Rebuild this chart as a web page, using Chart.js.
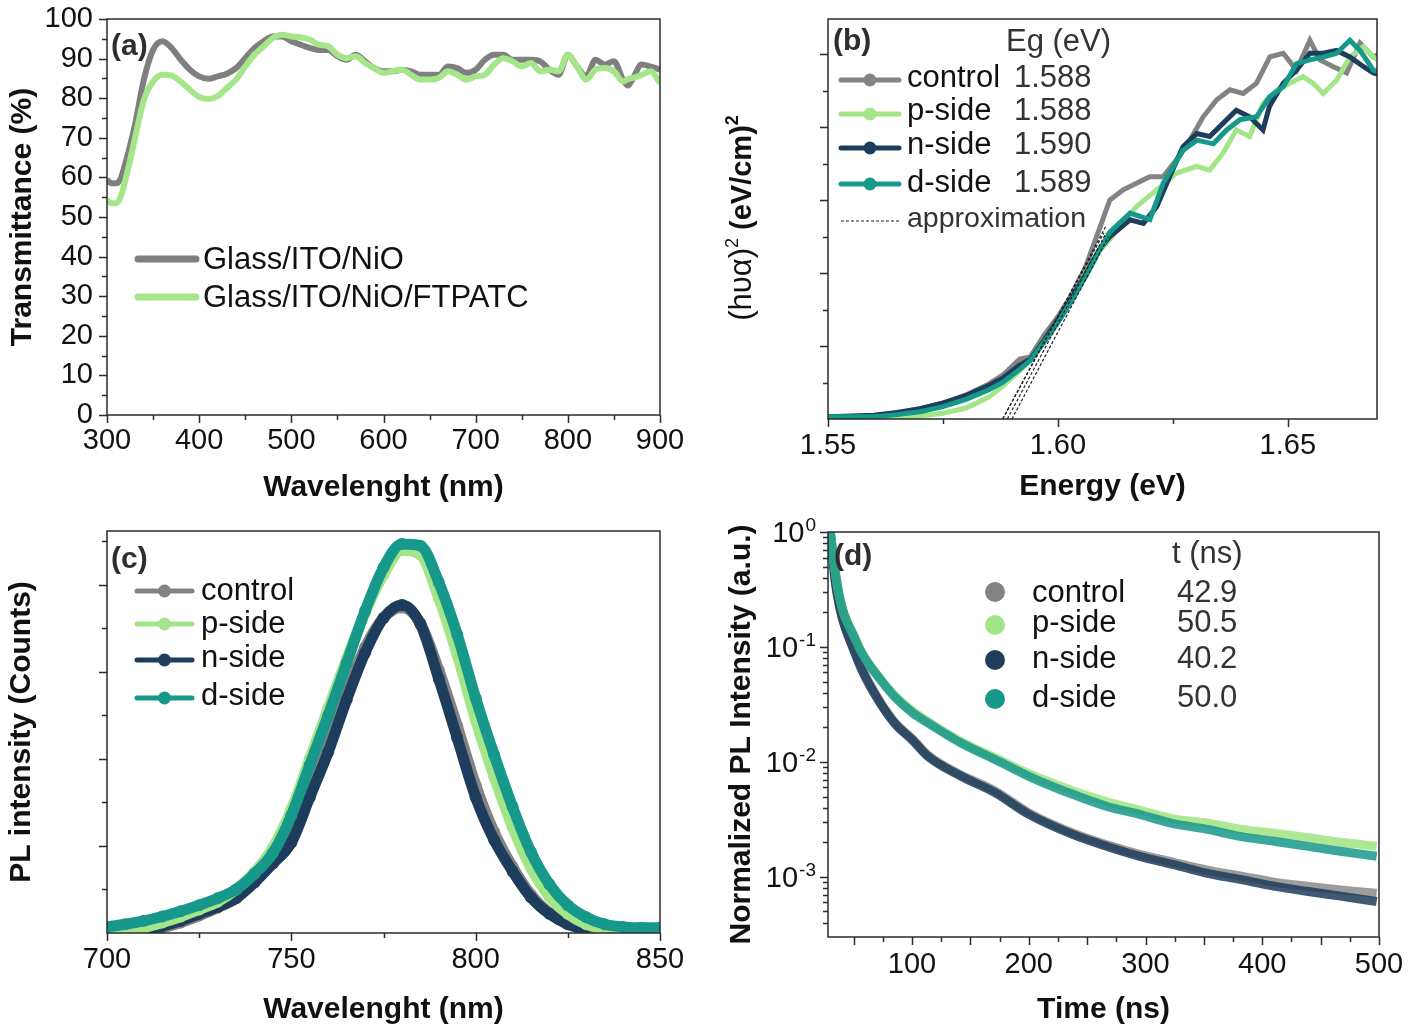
<!DOCTYPE html>
<html>
<head>
<meta charset="utf-8">
<title>Transmittance, Tauc, PL and TRPL</title>
<script src="https://cdn.jsdelivr.net/npm/chart.js@4.4.1/dist/chart.umd.min.js"></script>
<style>
  html, body { margin: 0; padding: 0; background: #fff; }
  body { width: 1423px; height: 1034px; position: relative; overflow: hidden; }
  canvas { position: absolute; }
</style>
</head>
<body>
<canvas id="pa" width="700" height="510" style="left:0;top:0"></canvas>
<canvas id="pb" width="713" height="510" style="left:710px;top:0"></canvas>
<canvas id="pc" width="700" height="524" style="left:0;top:510px"></canvas>
<canvas id="pd" width="713" height="524" style="left:710px;top:510px"></canvas>
<script>
const FONT = '"Liberation Sans", Arial, Helvetica, sans-serif'
const INK = '#111'
const LEG = '31px ' + FONT

// samples shared by (b), (c), (d)
const sampleNames = ['control', 'p-side', 'n-side', 'd-side']
const sampleColors = ['#838383', '#a5e58a', '#1e3d5c', '#16988a']

// (a) transmittance
const transNames = ['Glass/ITO/NiO', 'Glass/ITO/NiO/FTPATC']
const transWl = [300, 305, 310, 315, 320, 330, 340, 350, 360, 370, 380, 390, 400, 410, 420, 430, 440, 450, 460, 470, 480, 490, 500,
  510, 520, 530, 540, 550, 560, 570, 580, 590, 600, 610, 620, 630, 640, 650, 660, 670, 680, 690, 700, 710, 720, 730, 740, 750,
  760, 770, 780, 790, 800, 810, 820, 830, 840, 850, 860, 865, 870, 880, 890, 900]
const transNiO = [59.4, 58.5, 58.5, 59.8, 63.6, 72.9, 84.7, 92.2, 94.4, 92.7, 89.7, 87.2, 85.5, 84.9, 85.5, 86.2, 87.6, 90.1, 92.7,
  94.4, 95.6, 95.6, 94.4, 93.5, 92.7, 92.2, 92.2, 90.6, 89.7, 91.0, 89.3, 87.6, 86.8, 86.8, 87.2, 86.8, 85.9, 85.9, 85.9, 88.0,
  87.6, 86.4, 87.2, 89.7, 91.0, 91.0, 89.7, 89.7, 89.7, 89.3, 87.2, 85.9, 91.0, 88.0, 85.5, 89.7, 88.5, 89.3, 84.6, 83.2, 84.7,
  88.5, 88.0, 87.2]
const transFtpatc = [54.3, 53.5, 53.5, 55.2, 59.4, 69.5, 79.6, 84.2, 85.9, 85.7, 84.2, 82.1, 80.3, 79.8, 80.5, 82.6, 84.7, 88.0,
  91.0, 93.1, 95.2, 96.0, 95.6, 95.4, 94.8, 93.5, 93.1, 91.0, 90.1, 90.6, 88.9, 87.6, 86.4, 86.8, 87.2, 85.9, 84.7, 84.7, 85.1,
  86.8, 85.9, 84.7, 85.5, 85.9, 88.5, 90.1, 89.3, 88.0, 88.9, 86.8, 87.2, 86.8, 91.0, 88.0, 84.7, 87.2, 87.6, 86.8, 84.2, 84.8,
  85.1, 85.9, 86.8, 83.8]
const transColors = ['#7f7f7f', '#a6e68a']
const transXTicks = [300, 400, 500, 600, 700, 800, 900]
const transYTicks = [0, 10, 20, 30, 40, 50, 60, 70, 80, 90, 100]

// (b) Tauc plot, (h nu alpha)^2 in arbitrary units
const egCtrlE = [1.550, 1.555, 1.560, 1.565, 1.570, 1.575, 1.580, 1.585, 1.588, 1.5917, 1.594, 1.597, 1.600, 1.603, 1.606,
  1.609, 1.6113, 1.6142, 1.6171, 1.620, 1.6229, 1.6258, 1.6287, 1.6316, 1.6345, 1.6374, 1.6403, 1.6432, 1.6461, 1.649, 1.6519,
  1.6548, 1.657, 1.6598, 1.6628, 1.6657, 1.6686, 1.670]
const egCtrlY = [0.03, 0.03, 0.04, 0.08, 0.14, 0.21, 0.33, 0.48, 0.6, 0.82, 0.85, 1.15, 1.4, 1.7, 2.08, 2.6, 3.0, 3.14, 3.23,
  3.32, 3.32, 3.55, 3.82, 4.14, 4.37, 4.51, 4.46, 4.6, 4.96, 5.01, 4.78, 5.19, 4.92, 4.83, 4.74, 5.15, 4.96, 5.0]
const egPE = [1.550, 1.555, 1.560, 1.565, 1.570, 1.575, 1.580, 1.585, 1.588, 1.5917, 1.594, 1.597, 1.600, 1.603, 1.606, 1.609,
  1.6113, 1.6171, 1.6215, 1.6258, 1.6302, 1.633, 1.6359, 1.6388, 1.6417, 1.6446, 1.6475, 1.6504, 1.6533, 1.6555, 1.6577,
  1.6606, 1.6635, 1.6664, 1.6686, 1.670]
const egPY = [0, 0, 0.01, 0.02, 0.04, 0.08, 0.15, 0.3, 0.45, 0.66, 0.82, 1.08, 1.35, 1.66, 2.0, 2.3, 2.46, 2.91, 3.14, 3.37,
  3.46, 3.41, 3.64, 3.96, 3.87, 4.32, 4.5, 4.6, 4.69, 4.6, 4.46, 4.64, 4.96, 5.1, 4.96, 4.9]
const egNE = [1.550, 1.555, 1.560, 1.565, 1.570, 1.575, 1.580, 1.585, 1.588, 1.5917, 1.594, 1.597, 1.600, 1.603, 1.606, 1.609,
  1.6113, 1.6157, 1.6186, 1.6215, 1.6243, 1.6272, 1.6302, 1.633, 1.6359, 1.6388, 1.6417, 1.6446, 1.646, 1.649, 1.6519, 1.6548,
  1.6577, 1.6606, 1.6635, 1.6664, 1.6686, 1.670]
const egNY = [0.03, 0.04, 0.05, 0.09, 0.14, 0.22, 0.32, 0.46, 0.56, 0.74, 0.82, 1.08, 1.36, 1.66, 1.98, 2.32, 2.5, 2.73, 2.68,
  2.91, 3.32, 3.73, 3.91, 3.87, 4.05, 4.23, 4.14, 3.96, 4.28, 4.6, 4.78, 5.01, 5.01, 5.05, 4.96, 4.83, 4.74, 4.72]
const egDE = [1.550, 1.555, 1.560, 1.565, 1.570, 1.575, 1.580, 1.585, 1.588, 1.5917, 1.594, 1.597, 1.600, 1.603, 1.606, 1.609,
  1.6113, 1.6157, 1.620, 1.6229, 1.6272, 1.6302, 1.6338, 1.6367, 1.6396, 1.6432, 1.646, 1.649, 1.6519, 1.6548, 1.6577, 1.6606,
  1.6635, 1.6657, 1.6686, 1.670]
const egDY = [0.03, 0.03, 0.03, 0.06, 0.1, 0.17, 0.27, 0.4, 0.5, 0.68, 0.8, 1.05, 1.32, 1.62, 1.95, 2.3, 2.56, 2.82, 2.73, 3.23,
  3.68, 3.82, 3.77, 3.96, 4.1, 4.14, 4.41, 4.55, 4.87, 4.92, 4.96, 5.01, 5.19, 5.05, 4.78, 4.75]
// linear fits: start at Eg on the baseline, end point
const egFitE0 = [1.588, 1.588, 1.590, 1.589]
const egFitE1 = [1.6105, 1.6100, 1.6110, 1.6105]
const egFitY1 = [2.65, 2.55, 2.5, 2.55]
const egXTicks = [1.55, 1.60, 1.65]

// (c) steady state PL, arbitrary units
const plWl = [700, 705, 710, 715, 720, 725, 730, 735, 740, 745, 750, 755, 760, 765, 770, 775, 780, 785, 790, 795, 800, 805, 810,
  815, 820, 825, 830, 835, 840, 845, 850]
const plControl = [0, 0, 0.02, 0.06, 0.12, 0.2, 0.29, 0.4, 0.6, 0.84, 1.12, 1.62, 2.15, 2.75, 3.28, 3.62, 3.74, 3.56, 3.02, 2.38,
  1.7, 1.16, 0.76, 0.44, 0.23, 0.1, 0.04, 0.01, 0, 0, 0]
const plP = [0, 0.02, 0.06, 0.12, 0.19, 0.27, 0.36, 0.5, 0.7, 0.98, 1.42, 2.0, 2.58, 3.15, 3.68, 4.12, 4.4, 4.35, 3.85, 3.2, 2.45,
  1.8, 1.22, 0.75, 0.42, 0.22, 0.1, 0.04, 0.01, 0, 0]
const plN = [0, 0, 0.03, 0.08, 0.14, 0.22, 0.3, 0.4, 0.58, 0.8, 1.04, 1.56, 2.08, 2.68, 3.22, 3.62, 3.77, 3.55, 2.92, 2.24, 1.56,
  1.07, 0.71, 0.41, 0.22, 0.1, 0.04, 0.01, 0, 0, 0]
const plD = [0.07, 0.1, 0.14, 0.19, 0.25, 0.32, 0.4, 0.5, 0.68, 0.92, 1.35, 1.93, 2.5, 3.1, 3.7, 4.2, 4.47, 4.45, 4.03, 3.43,
  2.7, 2.05, 1.45, 0.93, 0.56, 0.32, 0.18, 0.1, 0.07, 0.06, 0.06]
const plXTicks = [700, 750, 800, 850]

// (d) TRPL decay, normalized
const trplTime = [30, 34, 38, 42, 50, 57, 71, 85, 100, 114, 142, 171, 200, 238, 267, 295, 324, 352, 381, 410, 438, 467, 498]
const trplControl = [1.0, 0.39, 0.225, 0.158, 0.097, 0.065, 0.0355, 0.0222, 0.016, 0.0114, 0.0077, 0.0056, 0.0036, 0.0024,
  0.0019, 0.00157, 0.00134, 0.00115, 0.00102, 0.0009, 0.00083, 0.00077, 0.00072]
const trplP = [1.0, 0.47, 0.27, 0.19, 0.127, 0.09, 0.056, 0.038, 0.028, 0.0223, 0.015, 0.0109, 0.0079, 0.0056, 0.0045, 0.0038,
  0.0032, 0.00295, 0.0026, 0.0024, 0.0022, 0.002, 0.00185]
const trplN = [1.0, 0.38, 0.22, 0.155, 0.094, 0.063, 0.0346, 0.0217, 0.0156, 0.0111, 0.0075, 0.0054, 0.0035, 0.00233, 0.00184,
  0.00151, 0.00128, 0.00108, 0.00095, 0.00083, 0.00075, 0.00068, 0.00061]
const trplD = [1.0, 0.465, 0.27, 0.19, 0.125, 0.088, 0.055, 0.037, 0.027, 0.0217, 0.0146, 0.0105, 0.0075, 0.0052, 0.0041,
  0.0035, 0.0029, 0.0026, 0.00225, 0.00204, 0.00185, 0.00167, 0.00151]
const lifetimes = ['42.9', '50.5', '40.2', '50.0']
const trplXTicks = [100, 200, 300, 400, 500]
const trplDecades = [1, 0.1, 0.01, 0.001]

const pts = (xs, ys) => xs.map((x, i) => ({ x, y: ys[i] }))
const range = (a, b, s) => { const r = []; for (let v = a; v <= b + 1e-9; v += s) r.push(+v.toFixed(4)); return r }

function axisX (min, max, ticks, height, pad, title, titlePad, fmt) {
  return {
    type: 'linear', min, max,
    grid: { display: false, drawTicks: false },
    border: { display: false },
    afterBuildTicks: s => { s.ticks = ticks.map(v => ({ value: v })) },
    afterFit: s => { s.height = height; s.paddingLeft = 0; s.paddingRight = 0 },
    ticks: { autoSkip: false, maxRotation: 0, padding: pad, color: INK, font: { family: FONT, size: 29 }, callback: fmt || (v => v) },
    title: { display: true, text: title, color: INK, font: { family: FONT, size: 30, weight: 'bold' }, padding: { top: 0, bottom: titlePad } }
  }
}

function axisY (type, min, max, ticks, width, showLabels, title, titlePad) {
  return {
    type, min, max,
    grid: { display: false, drawTicks: false },
    border: { display: false },
    afterBuildTicks: s => { s.ticks = ticks.map(v => ({ value: v })) },
    afterFit: s => { s.width = width; s.paddingTop = 0; s.paddingBottom = 0 },
    ticks: { display: showLabels, autoSkip: false, padding: 14, color: INK, font: { family: FONT, size: 29 } },
    title: { display: !!title, text: title || '', color: INK, font: { family: FONT, size: 30, weight: 'bold' }, padding: { top: titlePad, bottom: 0 } }
  }
}

// frame, outward ticks, panel tag and the hand placed legend
function decor (cfg) {
  return {
    id: 'decor',
    afterDraw (chart) {
      const { ctx, chartArea: a } = chart
      const xs = chart.scales.x
      const ys = chart.scales.y
      ctx.save()
      ctx.strokeStyle = '#2b2b2b'
      ctx.lineWidth = 1.5
      ctx.beginPath()
      const tick = (list, len, horiz) => (list || []).forEach(v => {
        if (horiz) {
          const p = Math.round(xs.getPixelForValue(v)) + 0.5
          ctx.moveTo(p, a.bottom); ctx.lineTo(p, a.bottom + len)
        } else {
          const p = Math.round(ys.getPixelForValue(v)) + 0.5
          ctx.moveTo(a.left, p); ctx.lineTo(a.left - len, p)
        }
      })
      tick(cfg.xMajor, 8, true); tick(cfg.xMinor, 5, true)
      tick(cfg.yMajor, 8, false); tick(cfg.yMinor, 5, false)
      ctx.stroke()
      ctx.strokeRect(a.left, a.top, a.right - a.left, a.bottom - a.top)
      ctx.fillStyle = '#2e2e2e'
      ctx.font = 'bold 30px ' + FONT
      ctx.textBaseline = 'alphabetic'
      ctx.textAlign = 'left'
      ctx.fillText(cfg.tag, cfg.tagX, cfg.tagY)
      if (cfg.draw) cfg.draw(ctx, a, chart)
      ctx.restore()
    }
  }
}

function legendLine (ctx, x0, x1, y, color, width, marker) {
  ctx.strokeStyle = color
  ctx.lineWidth = width
  ctx.lineCap = 'round'
  ctx.beginPath(); ctx.moveTo(x0, y); ctx.lineTo(x1, y); ctx.stroke()
  if (marker) {
    ctx.fillStyle = color
    ctx.beginPath(); ctx.arc((x0 + x1) / 2, y, marker, 0, Math.PI * 2); ctx.fill()
  }
}

const base = {
  responsive: false,
  animation: false,
  events: [],
  plugins: { legend: { display: false }, tooltip: { enabled: false } }
}

// Chart.js paints dataset 0 last, so lists are given back-to-front and reversed
// ---------- (a)
new Chart(document.getElementById('pa'), {
  type: 'line',
  data: {
    datasets: [transNiO, transFtpatc].map((d, i) => ({
      data: pts(transWl, d),
      borderColor: transColors[i],
      borderWidth: 6,
      pointRadius: 0,
      cubicInterpolationMode: 'monotone'
    })).reverse()
  },
  options: {
    ...base,
    layout: { padding: { left: 0, top: 19, right: 40, bottom: 0 } },
    scales: {
      x: axisX(300, 900, transXTicks, 95, 9, 'Wavelenght (nm)', 4),
      y: axisY('linear', 0, 100, transYTicks, 107, true, 'Transmittance (%)', 5)
    }
  },
  plugins: [decor({
    tag: '(a)', tagX: 111, tagY: 55,
    xMajor: transXTicks, xMinor: range(350, 850, 100),
    yMajor: transYTicks, yMinor: range(5, 95, 10),
    draw (ctx) {
      const rows = [259, 297]
      transNames.forEach((n, i) => {
        legendLine(ctx, 138, 196, rows[i], transColors[i], 7, 0)
        ctx.fillStyle = INK
        ctx.font = LEG
        ctx.fillText(n, 203, rows[i] + 10)
      })
    }
  })]
})

// ---------- (b)
const egSeries = [[egCtrlE, egCtrlY], [egPE, egPY], [egNE, egNY], [egDE, egDY]]
new Chart(document.getElementById('pb'), {
  type: 'line',
  data: {
    datasets: egSeries.map((s, i) => ({
      data: pts(s[0], s[1]),
      borderColor: sampleColors[i],
      borderWidth: 5,
      pointRadius: 0,
      tension: 0
    })).concat(egFitE0.map((e, i) => ({
      data: [{ x: e, y: 0 }, { x: egFitE1[i], y: egFitY1[i] }],
      borderColor: '#222',
      borderWidth: 1.2,
      borderDash: [3, 2],
      pointRadius: 0
    }))).reverse()
  },
  options: {
    ...base,
    layout: { padding: { left: 0, top: 19, right: 46, bottom: 0 } },
    scales: {
      x: axisX(1.55, 1.6694, egXTicks, 91, 10, 'Energy (eV)', 5, v => v.toFixed(2)),
      y: axisY('linear', 0, 5.48, [1, 2, 3, 4, 5], 118, false)
    }
  },
  plugins: [decor({
    tag: '(b)', tagX: 123, tagY: 50,
    xMajor: egXTicks, xMinor: [1.575, 1.625],
    yMajor: [1, 2, 3, 4, 5], yMinor: [0.5, 1.5, 2.5, 3.5, 4.5],
    draw (ctx) {
      ctx.font = LEG
      ctx.fillStyle = '#333'
      ctx.fillText('Eg (eV)', 296, 51)
      const rows = [80, 114, 148, 184]
      const base = [87, 120, 154, 192]
      sampleNames.forEach((n, i) => {
        legendLine(ctx, 131, 189, rows[i], sampleColors[i], 5, 6.5)
        ctx.font = LEG
        ctx.fillStyle = INK
        ctx.fillText(n, 197, base[i])
        ctx.fillStyle = '#333'
        ctx.fillText(egFitE0[i].toFixed(3), 304, base[i])
      })
      ctx.strokeStyle = '#222'
      ctx.lineWidth = 1.2
      ctx.lineCap = 'butt'
      ctx.setLineDash([3, 2])
      ctx.beginPath(); ctx.moveTo(131, 221); ctx.lineTo(190, 221); ctx.stroke()
      ctx.setLineDash([])
      ctx.fillStyle = '#333'
      ctx.font = '28.5px ' + FONT
      ctx.fillText('approximation', 197, 227)

      // y title: (hυα)² (eV/cm)²
      const parts = [
        { t: '(hυα)', f: '31px ' + FONT, dy: 0 },
        { t: '2', f: '18px ' + FONT, dy: -13 },
        { t: ' ', f: 'bold 29px ' + FONT, dy: 0 },
        { t: '(eV/cm)', f: 'bold 29px ' + FONT, dy: 0 },
        { t: '2', f: 'bold 18px ' + FONT, dy: -13 }
      ]
      let total = 0
      parts.forEach(p => { ctx.font = p.f; p.w = ctx.measureText(p.t).width; total += p.w })
      ctx.save()
      ctx.translate(31, 218)
      ctx.rotate(-Math.PI / 2)
      ctx.fillStyle = INK
      let x = -total / 2
      parts.forEach(p => { ctx.font = p.f; ctx.fillText(p.t, x, 10 + p.dy); x += p.w })
      ctx.restore()
    }
  })]
})

// ---------- (c)
const plSeries = [plControl, plN, plP, plD]
const plOrder = [0, 2, 1, 3]
new Chart(document.getElementById('pc'), {
  type: 'line',
  data: {
    datasets: plSeries.map((d, i) => {
      const c = sampleColors[plOrder[i]]
      return {
        data: pts(plWl, d),
        borderColor: c,
        backgroundColor: c,
        borderWidth: 11,
        pointRadius: 6,
        pointBorderWidth: 0,
        pointBackgroundColor: c,
        cubicInterpolationMode: 'monotone'
      }
    }).reverse()
  },
  options: {
    ...base,
    layout: { padding: { left: 0, top: 21, right: 40, bottom: 0 } },
    scales: {
      x: axisX(700, 850, plXTicks, 101, 10, 'Wavelenght (nm)', 6),
      y: axisY('linear', 0, 4.62, [1, 2, 3, 4], 107, false, 'PL intensity (Counts)', 4)
    }
  },
  plugins: [decor({
    tag: '(c)', tagX: 111, tagY: 58,
    xMajor: plXTicks, xMinor: [725, 775, 825],
    yMajor: [1, 2, 3, 4], yMinor: [0.5, 1.5, 2.5, 3.5, 4.5],
    draw (ctx) {
      const rows = [81, 114, 150, 188]
      const base = [90, 123, 157, 195]
      sampleNames.forEach((n, i) => {
        legendLine(ctx, 137, 192, rows[i], sampleColors[i], 5, 6.5)
        ctx.font = LEG
        ctx.fillStyle = INK
        ctx.fillText(n, 201, base[i])
      })
    }
  })]
})

// ---------- (d)
const trplSeries = [trplControl, trplN, trplP, trplD]
const trplOrder = [0, 2, 1, 3]
const trplAlpha = ['rgba(131,131,131,0.8)', 'rgba(165,229,138,0.9)', 'rgba(30,61,92,0.85)', 'rgba(22,152,138,0.85)']
const trplMin = 3.05e-4
const trplMinor = []
for (let k = -4; k < 0; k++) for (let m = 2; m <= 9; m++) { const v = m * Math.pow(10, k); if (v >= trplMin) trplMinor.push(v) }
new Chart(document.getElementById('pd'), {
  type: 'line',
  data: {
    datasets: trplSeries.map((d, i) => ({
      data: pts(trplTime, d),
      borderColor: trplAlpha[trplOrder[i]],
      borderWidth: 9,
      pointRadius: 0,
      cubicInterpolationMode: 'monotone'
    })).reverse()
  },
  options: {
    ...base,
    layout: { padding: { left: 0, top: 22, right: 44, bottom: 0 } },
    scales: {
      x: axisX(28, 500, trplXTicks, 97, 11, 'Time (ns)', 6),
      y: axisY('logarithmic', trplMin, 1, trplDecades, 118, false, 'Normalized PL Intensity (a.u.)', 14)
    }
  },
  plugins: [decor({
    tag: '(d)', tagX: 124, tagY: 55,
    xMajor: range(50, 500, 50), xMinor: range(75, 475, 50),
    yMajor: trplDecades, yMinor: trplMinor,
    draw (ctx, a, chart) {
      const ys = chart.scales.y
      ctx.fillStyle = INK
      trplDecades.forEach(v => {
        const p = ys.getPixelForValue(v)
        const e = String(Math.round(Math.log10(v)))
        ctx.font = '19px ' + FONT
        const we = ctx.measureText(e).width
        ctx.textAlign = 'right'
        ctx.fillText(e, a.left - 12, p - 1)
        ctx.font = '29px ' + FONT
        ctx.fillText('10', a.left - 13 - we, p + 10)
      })
      ctx.textAlign = 'left'
      ctx.font = LEG
      ctx.fillStyle = '#333'
      ctx.fillText('t (ns)', 462, 53)
      const rows = [82, 115, 150, 189]
      const base = [92, 122, 158, 197]
      sampleNames.forEach((n, i) => {
        ctx.fillStyle = sampleColors[i]
        ctx.beginPath(); ctx.arc(285, rows[i], 10, 0, Math.PI * 2); ctx.fill()
        ctx.fillStyle = INK
        ctx.fillText(n, 322, base[i])
        ctx.fillStyle = '#333'
        ctx.fillText(lifetimes[i], 467, base[i])
      })
    }
  })]
})
</script>
</body>
</html>
